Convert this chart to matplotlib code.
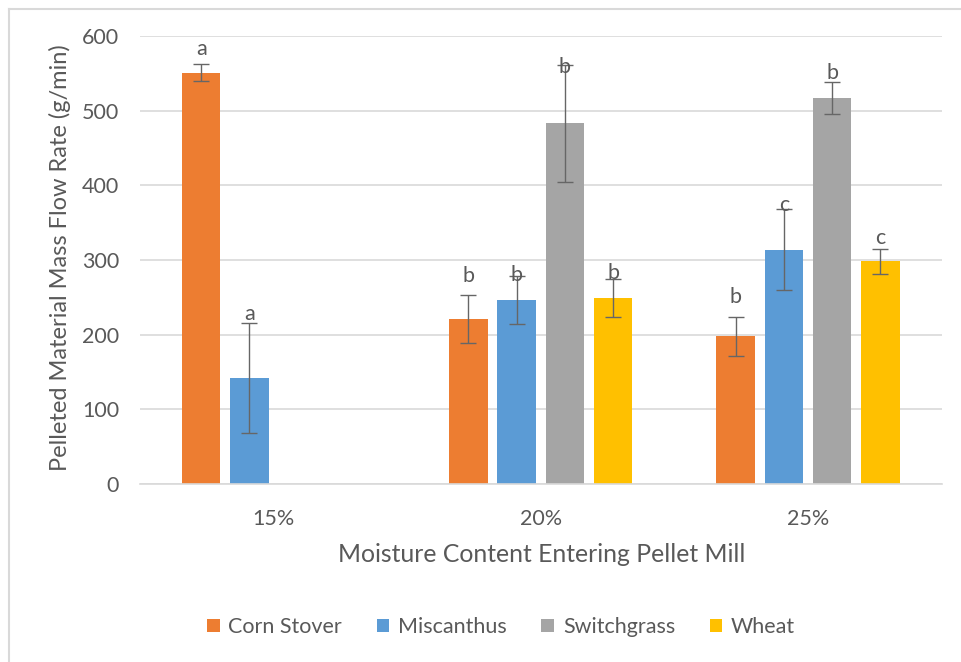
import numpy as np
import matplotlib
matplotlib.use("Agg")
import matplotlib.pyplot as plt
from matplotlib.lines import Line2D

# data
categories = ['15%', '20%', '25%']
series_names = ['Corn Stover', 'Miscanthus', 'Switchgrass', 'Wheat']

corn_stover = [551, 221, 198]
miscanthus = [142, 246, 314]
switchgrass = [np.nan, 483, 517]
wheat = [np.nan, 249, 298]

corn_err = [11.5, 32.5, 26]
misc_err = [74, 32, 54]
switch_err = [np.nan, 78, 21]
wheat_err = [np.nan, 25, 16.5]

# significance letters and the height of their baseline
corn_letters = ['a', 'b', 'b']
misc_letters = ['a', 'b', 'c']
switch_letters = ['', 'b', 'b']
wheat_letters = ['', 'b', 'c']
corn_letter_y = [574, 270, 242]
misc_letter_y = [220, 272, 366]
switch_letter_y = [np.nan, 550, 542]
wheat_letter_y = [np.nan, 274, 321]

colors = ['#ED7D31', '#5B9BD5', '#A5A5A5', '#FFC000']
text_color = '#595959'
grid_color = '#D9D9D9'

plt.rcParams['font.family'] = ['Lato', 'DejaVu Sans']

values = [corn_stover, miscanthus, switchgrass, wheat]
errors = [corn_err, misc_err, switch_err, wheat_err]
letters = [corn_letters, misc_letters, switch_letters, wheat_letters]
letter_y = [corn_letter_y, misc_letter_y, switch_letter_y, wheat_letter_y]

fig = plt.figure(figsize=(9.62, 6.62), dpi=100)
ax = fig.add_axes([0.1455, 0.2689, 0.8334, 0.6767])

x = np.arange(len(categories))
pitch = 0.1805
width = 0.144

for i, name in enumerate(series_names):
    pos = x + (i - 1.5) * pitch
    ax.bar(pos, values[i], width=width, color=colors[i], label=name, zorder=2)
    ax.errorbar(pos, values[i], yerr=errors[i], fmt='none', ecolor='#666666',
                elinewidth=1.0, capsize=6, capthick=1.0, zorder=3)
    for px, lab, ly in zip(pos, letters[i], letter_y[i]):
        if lab:
            ax.text(px, ly, lab, ha='center', va='baseline', fontsize=15.5,
                    color=text_color, zorder=4)

ax.set_xlim(-0.5, 2.5)
ax.set_ylim(0, 600)
ax.set_yticks(range(0, 601, 100))
ax.set_xticks(x)
ax.set_xticklabels(categories)
ax.tick_params(axis='both', length=0, labelsize=15.5, labelcolor=text_color)
ax.tick_params(axis='y', pad=15)
ax.tick_params(axis='x', pad=18)
ax.grid(axis='y', color=grid_color, linewidth=1.2, zorder=0)
ax.set_axisbelow(True)
for side in ['left', 'right', 'top']:
    ax.spines[side].set_visible(False)
ax.spines['bottom'].set_color(grid_color)
ax.spines['bottom'].set_linewidth(1.2)

fig.text(542 / 962, 1 - 555 / 662, 'Moisture Content Entering Pellet Mill',
         ha='center', va='center', fontsize=17.8, color=text_color)
fig.text(60 / 962, 1 - 258 / 662, 'Pelleted Material Mass Flow Rate (g/min)',
         ha='center', va='center', rotation=90, fontsize=17, color=text_color)

leg = fig.legend(loc='center', bbox_to_anchor=(501 / 962, 1 - 627 / 662), ncol=4,
                 frameon=False, fontsize=15.5, handlelength=0.6, handleheight=0.6,
                 handletextpad=0.4, columnspacing=1.6)
for t in leg.get_texts():
    t.set_color(text_color)

# chart area border (only left and top visible in the reference)
fig.add_artist(Line2D([9 / 962, 9 / 962], [0, 1 - 9 / 662], transform=fig.transFigure,
                      color=grid_color, linewidth=1.5))
fig.add_artist(Line2D([9 / 962, 1], [1 - 9 / 662, 1 - 9 / 662], transform=fig.transFigure,
                      color=grid_color, linewidth=1.5))

fig.savefig('out.png', dpi=100)
